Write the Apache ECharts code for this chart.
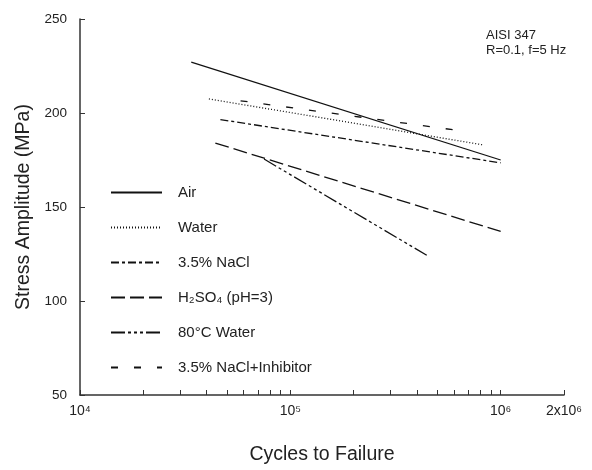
<!doctype html>
<html>
    <head>
        <meta charset="utf-8">
        <title>AISI 347 S-N</title>
        <style>
            html, body { margin: 0; padding: 0; background: #fff; }
            #main { width: 592px; height: 470px; }
        </style>
    </head>
    <body>
        <div id="main"></div>
        <script src="https://cdn.jsdelivr.net/npm/echarts@6/dist/echarts.min.js"></script>
        <script>
            // end points (cycles, MPa)
            var airN = [33800, 1000000];
            var airS = [227, 175];
            var waterN = [41000, 830000];
            var waterS = [207.5, 183];
            var naclN = [46500, 1000000];
            var naclS = [196.5, 173.5];
            var acidN = [44000, 1000000];
            var acidS = [184, 137];
            var hotN = [75000, 450000];
            var hotS = [175.5, 124];
            var inhibN = [58000, 700000];
            var inhibS = [206.5, 190];

            var names = ['Air', 'Water', '3.5% NaCl', 'H₂SO₄ (pH=3)', '80°C Water', '3.5% NaCl+Inhibitor'];
            var xLabels = {10000: '10⁴', 100000: '10⁵', 1000000: '10⁶', 2000000: '2x10⁶'};
            var yTicks = [50, 100, 150, 200, 250];

            var font = '"Liberation Sans", Arial, sans-serif';

            function pairs(xs, ys) {
                var out = [];
                for (var i = 0; i < xs.length; i++) {
                    out.push([xs[i], ys[i]]);
                }
                return out;
            }

            var minorTicks = [];
            [10000, 100000, 1000000].forEach(function (d) {
                for (var k = 1; k <= 9; k++) {
                    if (d * k <= 2000000) minorTicks.push(d * k);
                }
            });
            minorTicks.push(2000000);

            var dashes = ['solid', [1, 2], [8, 3, 3, 3], [14, 5], [14, 3, 3, 3, 3, 3, 3, 3], [7, 16]];
            var sets = [[airN, airS], [waterN, waterS], [naclN, naclS], [acidN, acidS], [hotN, hotS], [inhibN, inhibS]];

            var series = sets.map(function (s, i) {
                return {
                    name: names[i],
                    type: 'line',
                    symbol: 'none',
                    data: pairs(s[0], s[1]),
                    lineStyle: { color: '#111', width: 1.3, type: dashes[i] },
                    itemStyle: { color: '#111' }
                };
            });

            var chart = echarts.init(document.getElementById('main'));
            chart.setOption({
                backgroundColor: '#fff',
                animation: false,
                textStyle: { fontFamily: font },
                title: {
                    text: 'AISI 347\nR=0.1, f=5 Hz',
                    left: 481,
                    top: 23,
                    textStyle: { fontSize: 13, fontWeight: 'normal', color: '#222', lineHeight: 15, fontFamily: font }
                },
                legend: {
                    orient: 'vertical',
                    left: 110,
                    top: 185,
                    padding: 0,
                    itemWidth: 51,
                    itemHeight: 14,
                    itemGap: 20,
                    data: names,
                    // hide the circle that line series put in their legend icon
                    itemStyle: { opacity: 0 },
                    textStyle: { fontSize: 15, color: '#222', fontFamily: font, padding: [0, 0, 0, 11] }
                },
                grid: { left: 80, right: 28, top: 19, bottom: 75 },
                xAxis: {
                    type: 'log',
                    logBase: 10,
                    min: 10000,
                    max: 2000000,
                    name: 'Cycles to Failure',
                    nameLocation: 'middle',
                    nameGap: 50,
                    nameTextStyle: { fontSize: 19.5, color: '#222', fontFamily: font },
                    axisLine: { lineStyle: { color: '#333', width: 1.5 } },
                    axisTick: { inside: true, length: 5, customValues: minorTicks, lineStyle: { color: '#333' } },
                    axisLabel: {
                        customValues: [10000, 100000, 1000000, 2000000],
                        formatter: function (v) { return xLabels[Math.round(v)] || ''; },
                        fontSize: 14, color: '#222', margin: 9, fontFamily: font
                    },
                    splitLine: { show: false },
                    minorTick: { show: false }
                },
                yAxis: {
                    type: 'value',
                    min: yTicks[0],
                    max: yTicks[yTicks.length - 1],
                    interval: 50,
                    name: 'Stress Amplitude (MPa)',
                    nameLocation: 'middle',
                    nameGap: 46,
                    nameTextStyle: { fontSize: 19.5, color: '#222', fontFamily: font },
                    axisLine: { show: true, lineStyle: { color: '#333', width: 1.5 } },
                    axisTick: { show: true, inside: true, length: 5, lineStyle: { color: '#333' } },
                    axisLabel: { fontSize: 13.5, color: '#222', margin: 13, fontFamily: font },
                    splitLine: { show: false }
                },
                series: series
            });
        </script>
    </body>
</html>
